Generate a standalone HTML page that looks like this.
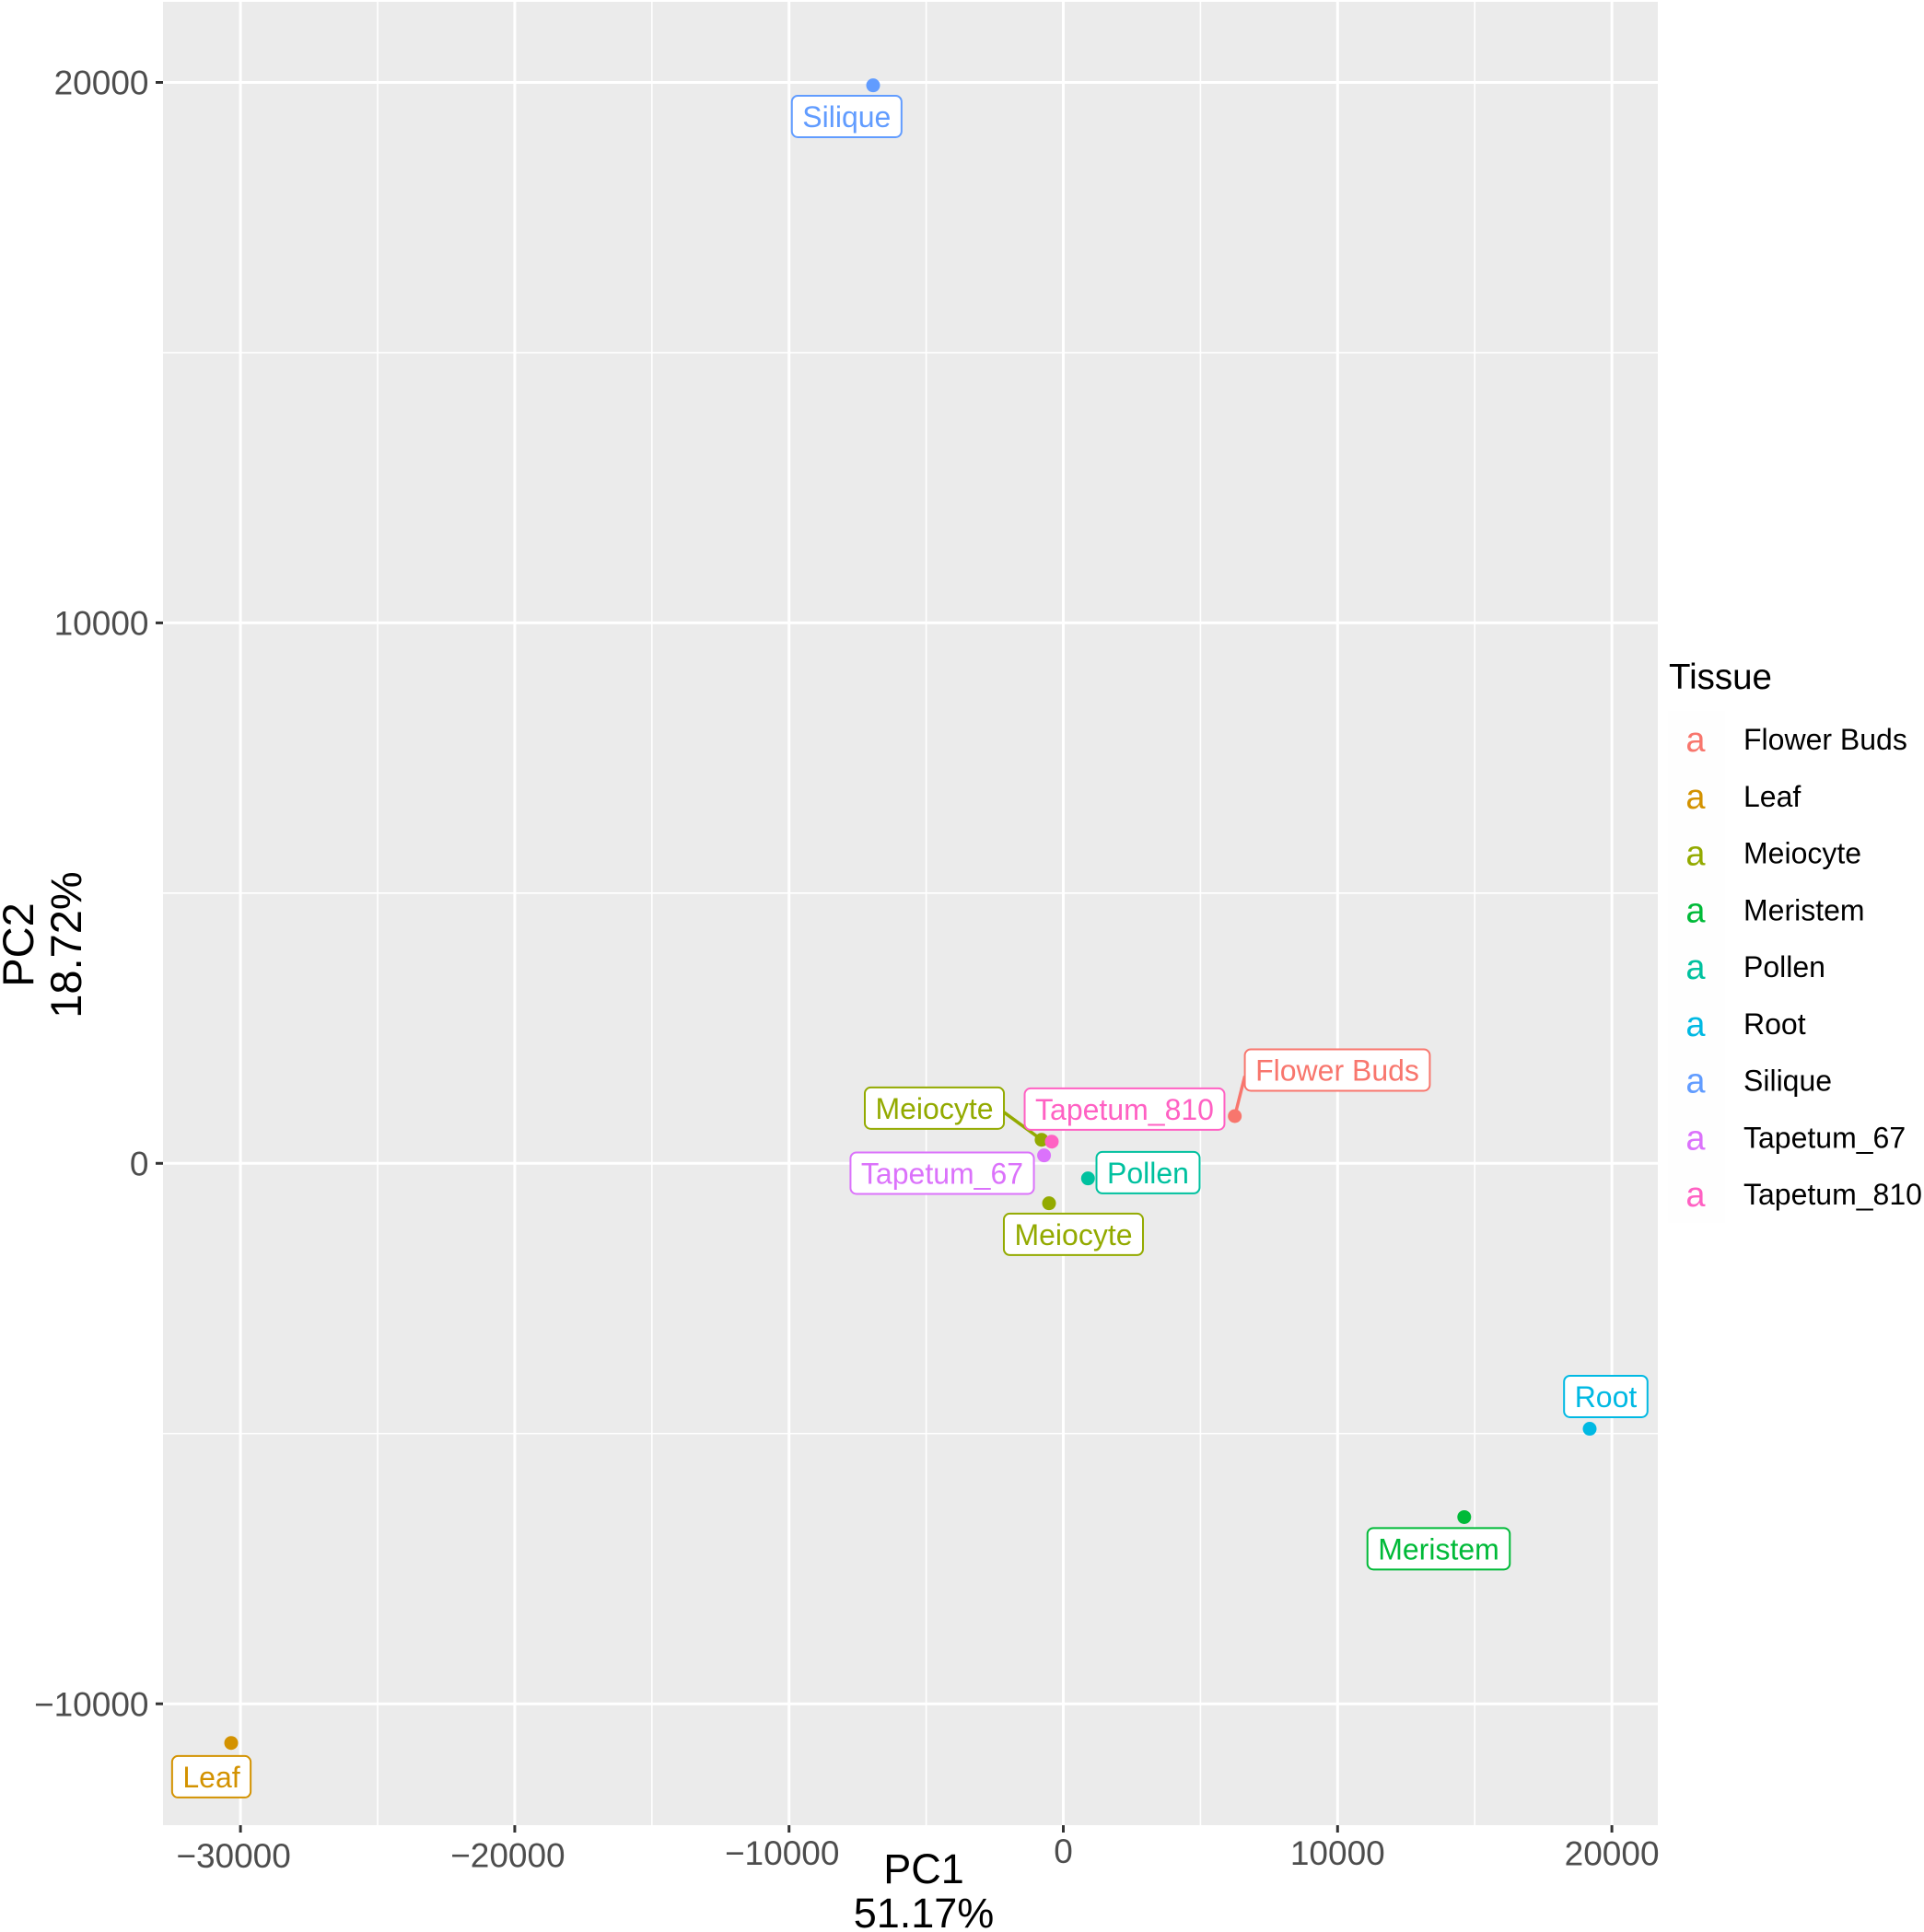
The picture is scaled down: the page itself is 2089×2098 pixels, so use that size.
<!DOCTYPE html>
<html lang="en">
<head>
<meta charset="utf-8">
<title>PCA of tissue samples</title>
<style>
  html, body { margin: 0; padding: 0; background: #ffffff; }
  svg { display: block; }
  text { font-family: "Liberation Sans", Arial, sans-serif; }
</style>
</head>
<body>
<svg id="chart" xmlns="http://www.w3.org/2000/svg" width="2089" height="2098" viewBox="0 0 2089 2098">
  <rect x="177" y="2" width="1623" height="1980" fill="#ebebeb"></rect>
  <g id="grid"></g>
  <g id="ticks"></g>
  <g id="leaders"></g>
  <g id="labels"></g>
  <g id="points"></g>
  <g font-size="45" fill="#000000" text-anchor="middle">
    <text x="1003" y="2045">PC1</text>
    <text x="1003" y="2093">51.17%</text>
  </g>
  <g font-size="47" fill="#000000" text-anchor="middle">
    <text transform="translate(36 1026) rotate(-90)">PC2</text>
    <text transform="translate(88 1026) rotate(-90)">18.72%</text>
  </g>
  <text x="1812" y="748" font-size="38.5" fill="#000000">Tissue</text>
  <g id="legend"></g>
</svg>
<script>
const tissues = ["Flower Buds", "Leaf", "Meiocyte", "Meristem", "Pollen", "Root", "Silique", "Tapetum_67", "Tapetum_810"];
const tissueColors = ["#F8766D", "#D39200", "#93AA00", "#00BA38", "#00C19F", "#00B9E3", "#619CFF", "#DB72FB", "#FF61C3"];

const sampleTissues = ["Flower Buds", "Leaf", "Meiocyte", "Meiocyte", "Meristem", "Pollen", "Root", "Silique", "Tapetum_67", "Tapetum_810"];
const pc1Values = [6252, -30339, -792, -520, 14617, 900, 19191, -6934, -702, -420];
const pc2Values = [874, -10724, 436, -739, -6546, -279, -4911, 19946, 147, 402];
const labelShiftPc1 = [3738, -722, -3909, 889, -933, 2189, 587, -964, -3714, 2653];
const labelShiftPc2 = [852, -626, 585, -575, -585, 107, 597, -576, -329, 602];

const xMajorTicks = [-30000, -20000, -10000, 0, 10000, 20000];
const xMinorTicks = [-25000, -15000, -5000, 5000, 15000];
const yMajorTicks = [-10000, 0, 10000, 20000];
const yMinorTicks = [-5000, 5000, 15000];
const xTickLabels = ["\u221230000", "\u221220000", "\u221210000", "0", "10000", "20000"];
const yTickLabels = ["\u221210000", "0", "10000", "20000"];

const SVG_NS = "http://www.w3.org/2000/svg";
const panel = { left: 177, right: 1800, top: 2, bottom: 1982 };
function xScale(v) { return 1154.5 + v * 0.02978; }
function yScale(v) { return 1263.3 - v * 0.05869; }
function make(parent, tag, attrs) {
  const el = document.createElementNS(SVG_NS, tag);
  for (const k in attrs) el.setAttribute(k, attrs[k]);
  parent.appendChild(el);
  return el;
}

const grid = document.getElementById("grid");
const ticks = document.getElementById("ticks");
const leaders = document.getElementById("leaders");
const labels = document.getElementById("labels");
const points = document.getElementById("points");
const legend = document.getElementById("legend");

yMinorTicks.forEach(function (v) {
  const el = make(grid, "line", { x1: panel.left, x2: panel.right, y1: yScale(v), y2: yScale(v), stroke: "#ffffff", "stroke-width": 1.6 });
  
  
});
xMinorTicks.forEach(function (v) {
  const el = make(grid, "line", { x1: xScale(v), x2: xScale(v), y1: panel.top, y2: panel.bottom, stroke: "#ffffff", "stroke-width": 1.6 });
  
  
});
yMajorTicks.forEach(function (v, i) {
  const y = yScale(v);
  const line = make(grid, "line", { x1: panel.left, x2: panel.right, y1: y, y2: y, stroke: "#ffffff", "stroke-width": 3 });
  
  
  const tick = make(ticks, "line", { x1: 169, x2: panel.left, y1: y, y2: y, stroke: "#333333", "stroke-width": 3 });
  
  
  const label = make(ticks, "text", { x: 161.5, y: y + 13.2, "font-size": 37, fill: "#4d4d4d", "text-anchor": "end" });
  
  
  label.textContent = yTickLabels[i];
});
xMajorTicks.forEach(function (v, i) {
  const x = xScale(v);
  const line = make(grid, "line", { x1: x, x2: x, y1: panel.top, y2: panel.bottom, stroke: "#ffffff", "stroke-width": 3 });
  
  
  const tick = make(ticks, "line", { x1: x, x2: x, y1: panel.bottom, y2: panel.bottom + 8, stroke: "#333333", "stroke-width": 3 });
  
  
  /* The reference's tick labels sit slightly off a common baseline. */
  const baselineNudge = [3, 2.7, 0, -2, 0, 0.7][i];
  const shiftLeft = v < 0 ? 7.5 : 0;
  const label = make(ticks, "text", { x: x - shiftLeft, y: 2025 + baselineNudge, "font-size": 37, fill: "#4d4d4d", "text-anchor": "middle" });
  
  
  label.textContent = xTickLabels[i];
});

sampleTissues.forEach(function (name, i) {
  const color = tissueColors[tissues.indexOf(name)];
  const px = xScale(pc1Values[i]);
  const py = yScale(pc2Values[i]);
  const cx = xScale(pc1Values[i] + labelShiftPc1[i]);
  const cy = yScale(pc2Values[i] + labelShiftPc2[i]);

  const group = make(labels, "g", {});
  
  
  const box = make(group, "rect", { y: cy - 22.5, height: 45, rx: 6.5, ry: 6.5, fill: "#ffffff", stroke: color, "stroke-width": 2 });
  
  
  const text = make(group, "text", { x: cx, y: cy + 11.5, "font-size": 32, fill: color, "text-anchor": "middle" });
  
  
  text.textContent = name;
  const w = text.getComputedTextLength() + 23;
  box.setAttribute("x", cx - w / 2);
  box.setAttribute("width", w);

  const dx = Math.max(cx - w / 2 - px, 0, px - cx - w / 2);
  const dy = Math.max(cy - 22.5 - py, 0, py - cy - 22.5);
  if (Math.hypot(dx, dy) > 20) {
    const endX = px < cx ? cx - w / 2 : cx + w / 2;
    const leader = make(leaders, "line", { x1: px, y1: py, x2: endX, y2: cy + (py - cy) * 0.13, stroke: color, "stroke-width": 3.5 });
    
    
  }

  const dot = make(points, "circle", { cx: px, cy: py, r: 7.5, fill: color });
  
  
});

tissues.forEach(function (name, i) {
  const rowY = 803 + i * 61.75;
  const key = make(legend, "rect", { x: 1811, y: rowY - 30.9, width: 62, height: 61.75, fill: "#fefefe" });
  
  
  const glyph = make(legend, "text", { x: 1841, y: rowY + 13, "font-size": 38, fill: tissueColors[i], "text-anchor": "middle" });
  
  
  glyph.textContent = "a";
  const label = make(legend, "text", { x: 1893, y: rowY + 11, "font-size": 32, fill: "#000000" });
  
  
  label.textContent = name;
});
</script>
</body>
</html>
